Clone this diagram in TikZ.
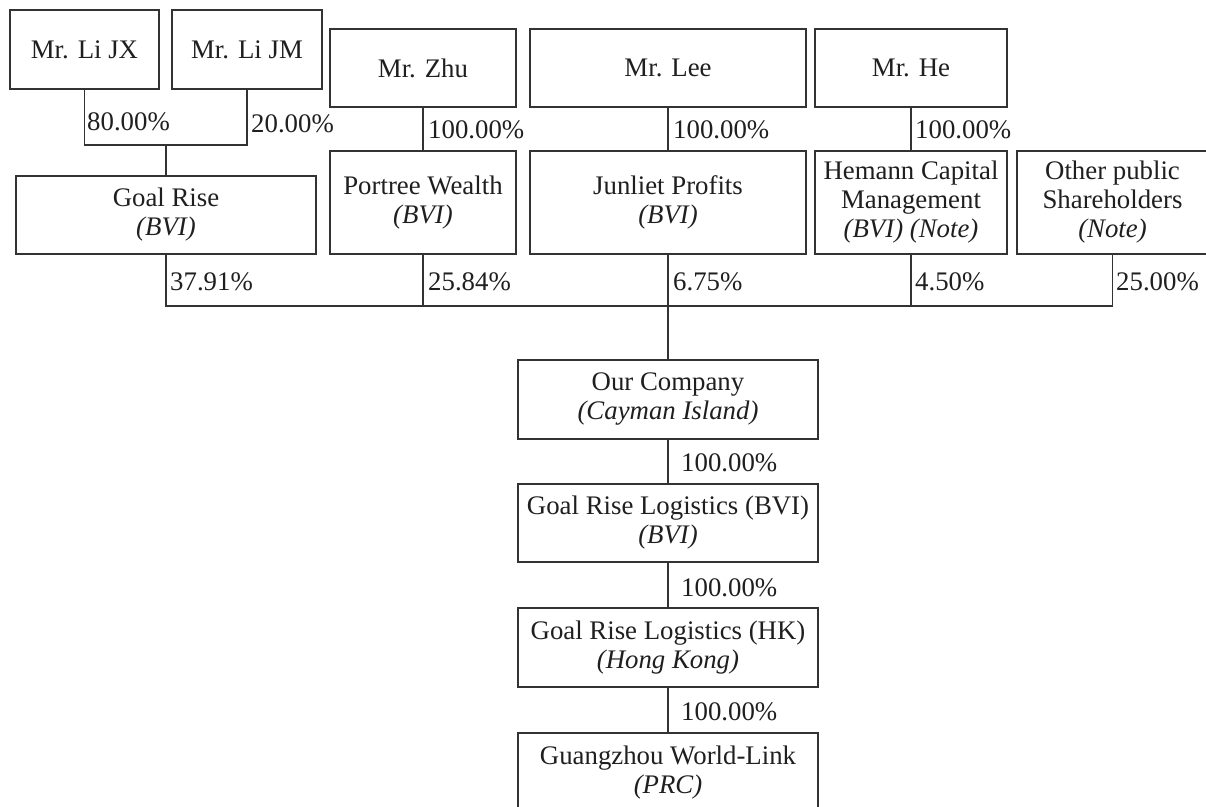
\documentclass[tikz,border=0pt]{standalone}
\usepackage{fontspec}
\setmainfont{Liberation Serif}
\begin{document}
\begin{tikzpicture}[x=1pt,y=-1pt,
  ln/.style={draw=black!80, line width=1.2pt},
  box/.style={ln, rectangle, inner sep=0pt, outer sep=0pt, align=center, text=black!88,
     font=\fontsize{26.8}{29}\selectfont},
  pct/.style={anchor=west, inner sep=0pt, text=black!88, font=\fontsize{26.8}{29}\selectfont}]
\useasboundingbox[fill=white] (0,0) rectangle (1206,806);
% top row
\node[box, minimum width=149pt, minimum height=79pt] (lijx) at (84.5,49.5) {Mr. Li JX};
\node[box, minimum width=150pt, minimum height=79pt] (lijm) at (247,49.5) {Mr. Li JM};
\node[box, minimum width=186pt, minimum height=78pt] (zhu) at (423,68) {Mr. Zhu};
\node[box, minimum width=276pt, minimum height=78pt] (lee) at (668,68) {Mr. Lee};
\node[box, minimum width=192pt, minimum height=78pt] (he) at (911,68) {Mr. He};
% second row
\node[box, minimum width=300pt, minimum height=78pt] (goalrise) at (166,215) {Goal Rise\\\textit{(BVI)}};
\node[box, minimum width=186pt, minimum height=103pt] (portree) at (423,202.5) {Portree Wealth\\\textit{(BVI)}};
\node[box, minimum width=276pt, minimum height=103pt] (junliet) at (668,202.5) {Junliet Profits\\\textit{(BVI)}};
\node[box, minimum width=192pt, minimum height=103pt] (hemann) at (911,202.5) {Hemann Capital\\Management\\\textit{(BVI) (Note)}};
\node[box, minimum width=191pt, minimum height=103pt] (other) at (1112.5,202.5) {Other public\\Shareholders\\\textit{(Note)}};
% chain
\node[box, minimum width=300pt, minimum height=79pt] (ourco) at (668,399.5) {Our Company\\\textit{(Cayman Island)}};
\node[box, minimum width=300pt, minimum height=78pt] (grlbvi) at (668,523) {Goal Rise Logistics (BVI)\\\textit{(BVI)}};
\node[box, minimum width=300pt, minimum height=79pt] (grlhk) at (668,647.5) {Goal Rise Logistics (HK)\\\textit{(Hong Kong)}};
\node[box, minimum width=300pt, minimum height=79pt] (gz) at (668,772.5) {Guangzhou World-Link\\\textit{(PRC)}};
% bracket of Li JX / Li JM
\coordinate (brL) at (84.5,145);
\coordinate (brR) at (247,145);
\draw[ln] (lijx.south) -- (brL) -- (brR) -- (lijm.south);
\draw[ln] (goalrise.north) -- (goalrise.north |- brL);
% owners to companies
\draw[ln] (zhu) -- (portree);
\draw[ln] (lee) -- (junliet);
\draw[ln] (he) -- (hemann);
% shareholder bus
\coordinate (busL) at (166,306);
\coordinate (busR) at (1112.5,306);
\draw[ln] (goalrise.south) -- (busL) -- (busR) -- (other.south);
\draw[ln] (portree.south) -- (portree.south |- busL);
\draw[ln] (hemann.south) -- (hemann.south |- busL);
\draw[ln] (junliet) -- (ourco);
\draw[ln] (ourco) -- (grlbvi);
\draw[ln] (grlbvi) -- (grlhk);
\draw[ln] (grlhk) -- (gz);
% percentages
\node[pct] (p1) at (87,122) {80.00\%};
\node[pct] (p2) at (251,124) {20.00\%};
\node[pct] (p3) at (428,130) {100.00\%};
\node[pct] (p4) at (673,130) {100.00\%};
\node[pct] (p5) at (915,130) {100.00\%};
\node[pct] (p6) at (170,282) {37.91\%};
\node[pct] (p7) at (428,282) {25.84\%};
\node[pct] (p8) at (673,282) {6.75\%};
\node[pct] (p9) at (915,282) {4.50\%};
\node[pct] (p10) at (1116,282) {25.00\%};
\node[pct] (p11) at (681,463) {100.00\%};
\node[pct] (p12) at (681,588) {100.00\%};
\node[pct] (p13) at (681,712) {100.00\%};
\end{tikzpicture}
\end{document}
